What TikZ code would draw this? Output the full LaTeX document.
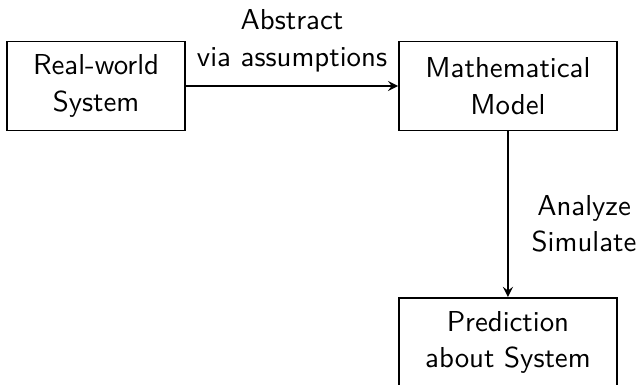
\documentclass[tikz,border=0pt]{standalone}
\usepackage{tikz}
\usetikzlibrary{arrows.meta,positioning}

\begin{document}
\begin{tikzpicture}[
    box/.style={draw, semithick, minimum height=1.117cm, font=\sffamily\fontsize{10.3}{13}\selectfont, align=center},
    lbl/.style={font=\sffamily\fontsize{10.3}{13}\selectfont, align=center}
]
    \useasboundingbox (0,0) rectangle (8.056,4.831);

    % 三个框
    \node[box, minimum width=2.234cm] (R) at (1.205,3.752) {Real-world\\System};
    \node[box, minimum width=2.735cm] (M) at (6.374,3.752) {Mathematical\\Model};
    \node[box, minimum width=2.735cm] (P) at (6.374,0.535) {Prediction\\about System};

    % 箭头
    \draw[-stealth, semithick] (R) -- node[above, lbl, yshift=1.5pt] {Abstract\\via assumptions} (M);
    \draw[-stealth, semithick] (M) -- node[right, lbl, xshift=0.17cm, yshift=-0.12cm] {Analyze\\Simulate} (P);
\end{tikzpicture}
\end{document}
